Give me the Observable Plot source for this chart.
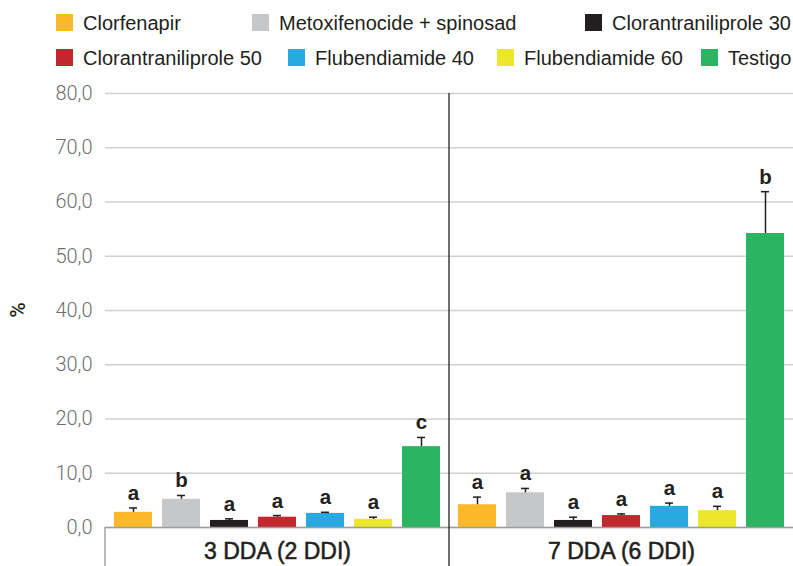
<!DOCTYPE html>
<html><head><meta charset="utf-8">
<script src="https://cdn.jsdelivr.net/npm/d3@7"></script>
<script src="https://cdn.jsdelivr.net/npm/@observablehq/plot@0.6"></script>
<style>
body{margin:0;background:#fff;font-family:"Liberation Sans",Arial,sans-serif;}
#legend{position:relative;height:80px;width:793px;overflow:hidden;}
.sw{position:absolute;width:17px;height:17px;}
.lt{position:absolute;font-size:20px;color:#231f20;white-space:nowrap;line-height:24px;}
</style></head><body>
<div id="legend"></div><div id="chart"></div>
<script>
const groups = ["3 DDA (2 DDI)", "7 DDA (6 DDI)"];
const treatments = ["Clorfenapir", "Metoxifenocide + spinosad", "Clorantraniliprole 30", "Clorantraniliprole 50", "Flubendiamide 40", "Flubendiamide 60", "Testigo"];
const colors = ["#fbb92a", "#c6c7c9", "#231f20", "#c1272d", "#27aae1", "#ece72a", "#2bb462"];
const values3 = [2.8, 5.2, 1.3, 1.9, 2.6, 1.5, 14.9];
const errTop3 = [3.6, 5.9, 1.6, 2.2, 2.8, 1.9, 16.6];
const letters3 = ["a", "b", "a", "a", "a", "a", "c"];
const values7 = [4.2, 6.4, 1.3, 2.2, 3.9, 3.1, 54.2];
const errTop7 = [5.6, 7.2, 1.9, 2.5, 4.5, 3.9, 61.9];
const letters7 = ["a", "a", "a", "a", "a", "a", "b"];
const yTicks = [0, 10, 20, 30, 40, 50, 60, 70, 80];

// legend (HTML, two rows): swatch left, row centre
const legendPos = [[56, 22.5], [252, 22.5], [585, 22.5], [56, 57.5], [288, 57.5], [497, 57.5], [701, 57.5]];
const legend = document.getElementById("legend");
treatments.forEach((t, i) => {
  const [lx, cy] = legendPos[i];
  const s = document.createElement("div");
  s.className = "sw";
  s.style.left = lx + "px";
  s.style.top = (cy - 8.5) + "px";
  s.style.background = colors[i];
  legend.appendChild(s);
  const l = document.createElement("div");
  l.className = "lt";
  l.style.left = (lx + 27) + "px";
  l.style.top = (cy - 12) + "px";
  l.textContent = t;
  legend.appendChild(l);
});

const data = [];
treatments.forEach((t, i) => {
  data.push({group: groups[0], treatment: t, value: values3[i], err: errTop3[i], letter: letters3[i]});
  data.push({group: groups[1], treatment: t, value: values7[i], err: errTop7[i], letter: letters7[i]});
});

const chart = Plot.plot({
  width: 793,
  height: 486,
  marginTop: 13,
  marginBottom: 39,
  marginLeft: 104,
  marginRight: 0,
  style: {fontFamily: "'Liberation Sans', Arial, sans-serif", background: "#fff"},
  fx: {domain: groups, padding: 0, label: null},
  x: {domain: treatments, paddingInner: 0.2, paddingOuter: 0.12, axis: null},
  y: {domain: [0, 80], label: null},
  color: {domain: treatments, range: colors},
  marks: [
    Plot.gridY(yTicks, {stroke: "#d0d0d0", strokeOpacity: 1, strokeWidth: 1.6}),
    Plot.axisY(yTicks, {tickSize: 0, tickPadding: 13, fontSize: 20, fontWeight: 300, fill: "#6d6e71",
      fontFamily: "Roboto, sans-serif",
      tickFormat: d => d.toFixed(1).replace(".", ","), label: null}),
    Plot.axisFx({anchor: "bottom", tickSize: 0, tickPadding: 15, fontSize: 23, fill: "#231f20", label: null}),
    Plot.barY(data, {fx: "group", x: "treatment", y: "value", fill: "treatment"}),
    Plot.ruleX(data, {fx: "group", x: "treatment", y1: "value", y2: "err", stroke: "#231f20", strokeWidth: 1.5}),
    Plot.tickY(data, {fx: "group", x: "treatment", y: "err", stroke: "#231f20", strokeWidth: 1.5, insetLeft: 15, insetRight: 15}),
    Plot.text(data, {fx: "group", x: "treatment", y: "err", text: "letter", lineAnchor: "bottom", dy: -8,
      fontSize: 20.5, fontWeight: "bold", fill: "#231f20"}),
    Plot.ruleY([0], {stroke: "#9d9d9d", strokeWidth: 1.6})
  ]
});
document.getElementById("chart").appendChild(chart);

// decorations derived from the plot's own scales
const svg = d3.select(chart);
svg.selectAll("[aria-label='fx-axis tick label'] text")
  .attr("stroke", "#231f20").attr("stroke-width", 0.55);
const fx = chart.scale("fx");
const y = chart.scale("y");
const H = 486;
const xLeft = fx.apply(groups[0]);
const xMid = fx.apply(groups[1]);
svg.append("line").attr("x1", xLeft).attr("x2", xLeft).attr("y1", y.apply(0)).attr("y2", H)
  .attr("stroke", "#9d9d9d").attr("stroke-width", 1.4);
svg.append("line").attr("x1", xMid).attr("x2", xMid).attr("y1", y.apply(80)).attr("y2", H)
  .attr("stroke", "#231f20").attr("stroke-width", 1.3);
svg.append("text").attr("transform", `translate(19,${(y.apply(0) + y.apply(80)) / 2}) rotate(-90)`)
  .attr("text-anchor", "middle").attr("dominant-baseline", "middle")
  .attr("font-family", "Roboto, sans-serif")
  .attr("font-size", 21).attr("font-weight", 500).attr("fill", "#231f20").text("%");
</script>
</body></html>
